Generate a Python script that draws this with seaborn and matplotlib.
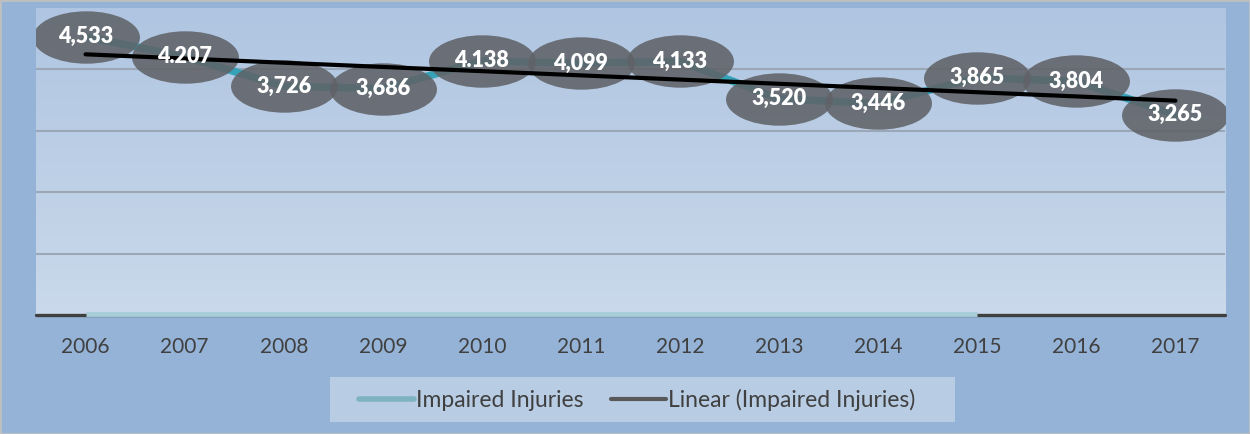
import numpy as np
import pandas as pd
import matplotlib
matplotlib.use("Agg")
import matplotlib.pyplot as plt
import seaborn as sns
from matplotlib.path import Path
from matplotlib.transforms import Affine2D
from matplotlib.lines import Line2D
from matplotlib.patches import Rectangle
from matplotlib.colors import LinearSegmentedColormap

# ---- data ----
years = [2006, 2007, 2008, 2009, 2010, 2011, 2012, 2013, 2014, 2015, 2016, 2017]
injuries = [4533, 4207, 3726, 3686, 4138, 4099, 4133, 3520, 3446, 3865, 3804, 3265]
value_labels = ["4,533", "4.207", "3,726", "3,686", "4.138", "4,099",
                "4,133", "3,520", "3,446", "3,865", "3,804", "3,265"]
series_name = "Impaired Injuries"
trend_name = "Linear (Impaired Injuries)"
grid_values = [1000, 2000, 3000, 4000]
y_range = [0, 5000]

sns.set_theme(style="white")
plt.rcParams['font.family'] = ['Lato', 'DejaVu Sans']

W, H = 1250, 434
fig = plt.figure(figsize=(W / 100, H / 100), dpi=100, facecolor="#95b3d7")
# outer border
fig.patches.append(Rectangle((0, 0), 1, 1, transform=fig.transFigure, fill=False,
                             edgecolor="#bfbfbf", lw=2, zorder=0))

ax = fig.add_axes([36 / W, 119 / H, 1189 / W, 307 / H])
ax.set_facecolor("none")

# gradient plot area
cmap = LinearSegmentedColormap.from_list("bg", ["#cad9eb", "#afc5e1"])
ax.imshow(np.linspace(0, 1, 256).reshape(-1, 1), extent=[0, 1, 0, 1],
          transform=ax.transAxes, cmap=cmap, origin="lower", aspect="auto", zorder=0)

df = pd.DataFrame({"Year": years, series_name: injuries})

sns.lineplot(data=df, x="Year", y=series_name, color="#36a2b8", lw=5.5, ax=ax, zorder=2)

ell = Path.unit_circle().transformed(Affine2D().scale(1.0, 0.49))
sns.scatterplot(data=df, x="Year", y=series_name, marker=ell, s=77 ** 2,
                color="#606368", alpha=0.88, linewidth=0, ax=ax, zorder=3)

sns.regplot(data=df, x="Year", y=series_name, scatter=False, ci=None, truncate=True,
            line_kws=dict(color="black", lw=3, zorder=4), ax=ax)

for x, y, lab in zip(years, injuries, value_labels):
    ax.text(x, y, lab, ha="center", va="center", color="white",
            fontsize=15.5, fontweight="heavy", zorder=6)

ax.set_xlim(years[0] - 0.5, years[-1] + 0.5)
ax.set_ylim(*y_range)
ax.set_yticks(grid_values)
ax.set_yticklabels([])
ax.yaxis.grid(True, color="#9ba7b7", lw=1.5, zorder=1)
ax.set_axisbelow(True)
ax.set_xticks(years)
ax.set_xticklabels([str(y) for y in years], fontsize=15, color="#404040")
ax.tick_params(axis="x", bottom=False, pad=10)
ax.tick_params(axis="y", left=False)
for s in ax.spines.values():
    s.set_visible(False)
ax.set_xlabel("")
ax.set_ylabel("")

# x-axis line
ax.axhline(y_range[0], color="#404040", lw=2.4, clip_on=False, zorder=5)
ax.hlines(y_range[0] + 20, years[0], years[9], color="#a9cdd9", lw=3.5,
          clip_on=False, zorder=5)

# legend box and legend
fig.patches.append(Rectangle((330 / W, 12 / H), 625 / W, 45 / H, transform=fig.transFigure,
                             facecolor="#b8cce4", edgecolor="none", zorder=1))
handles = [Line2D([], [], color="#7fb3c2", lw=4, solid_capstyle="round"),
           Line2D([], [], color="#595959", lw=3, solid_capstyle="round")]
fig.legend(handles, [series_name, trend_name], loc="center left",
           bbox_to_anchor=(338 / W, 34 / H),
           ncol=2, frameon=False, fontsize=16.5, handlelength=2.4, handletextpad=0.1,
           columnspacing=1.2, labelcolor="#404040")

fig.savefig("out.png", dpi=100, facecolor=fig.get_facecolor())
